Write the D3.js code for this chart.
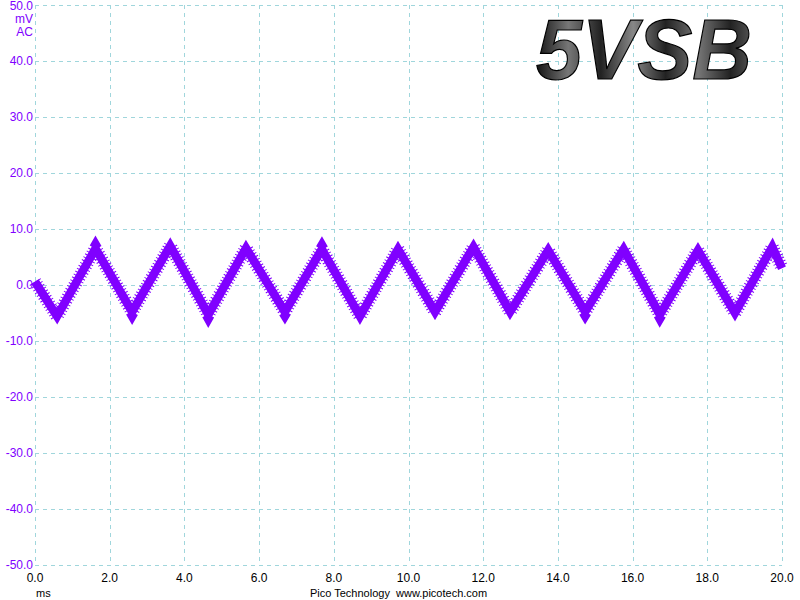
<!DOCTYPE html>
<html><head><meta charset="utf-8">
<script src="https://cdn.jsdelivr.net/npm/d3@7"></script>
<style>body{margin:0;background:#fff}svg{display:block}</style>
</head><body>
<script>
// Data (time in ms, signal in mV AC)
const timeTicks = [0,2,4,6,8,10,12,14,16,18,20];
const voltTicks = [50,40,30,20,10,0,-10,-20,-30,-40,-50];
const vertexTimes = [0,0.59,1.62,2.60,3.62,4.64,5.65,6.69,7.68,8.70,9.72,10.71,11.74,12.72,13.74,14.73,15.76,16.73,17.75,18.74,19.74,20.0];
const vertexValues = [0.6,-5.6,6.5,-4.8,7.0,-5.3,6.6,-4.8,6.4,-5.6,6.4,-4.8,6.8,-4.8,6.2,-4.8,6.4,-5.3,6.2,-5.0,6.8,3.0];
const title = "5VSB";
const xUnit = "ms";
const yUnit = ["mV","AC"];
const footer = "Pico Technology  www.picotech.com";

const W=800,H=600;
const svg=d3.select("body").append("svg").attr("width",W).attr("height",H);
const x=d3.scaleLinear().domain([0,20]).range([35,782]);
const y=d3.scaleLinear().domain([-50,50]).range([565,5]);
const purple="#8000ff";
const gridC="#a0d6dc";
const font="'Liberation Sans', Arial, sans-serif";

// grid
const g=svg.append("g");
g.selectAll(".vg").data(timeTicks).join("line")
 .attr("x1",d=>Math.round(x(d))+0.5).attr("x2",d=>Math.round(x(d))+0.5).attr("y1",y(50)).attr("y2",y(-50))
 .attr("stroke",gridC).attr("stroke-dasharray","4,4");
g.selectAll(".hg").data(voltTicks).join("line")
 .attr("y1",d=>Math.round(y(d))+0.5).attr("y2",d=>Math.round(y(d))+0.5).attr("x1",x(0)).attr("x2",x(20))
 .attr("stroke",gridC).attr("stroke-dasharray","4,4");

// title
const defs=svg.append("defs");
const gr=defs.append("linearGradient").attr("id","tg").attr("x1",0).attr("y1",0).attr("x2",1).attr("y2",0);
[[0,"#111"],[0.15,"#777"],[0.3,"#222"],[0.45,"#888"],[0.6,"#222"],[0.75,"#777"],[0.9,"#222"],[1,"#555"]].forEach(s=>gr.append("stop").attr("offset",s[0]).attr("stop-color",s[1]));
svg.append("text").attr("x",536).attr("y",79).text(title)
 .attr("font-family",font).attr("font-weight","bold").attr("font-style","italic")
 .attr("font-size",85).attr("textLength",216).attr("lengthAdjust","spacingAndGlyphs")
 .attr("fill","url(#tg)").attr("stroke","#000").attr("stroke-width",1.2);

// y labels
svg.selectAll(".yl").data(voltTicks).join("text")
 .attr("x",33).attr("y",d=>Math.max(y(d)+4,10)).attr("text-anchor","end")
 .attr("font-family",font).attr("font-size",12).attr("fill",purple)
 .text(d=>d.toFixed(1));
svg.selectAll(".yu").data(yUnit).join("text")
 .attr("x",33).attr("y",(d,i)=>23+i*13).attr("text-anchor","end")
 .attr("font-family",font).attr("font-size",12).attr("fill",purple).text(d=>d);

// x labels
svg.selectAll(".xl").data(timeTicks).join("text")
 .attr("x",d=>x(d)).attr("y",582).attr("text-anchor","middle")
 .attr("font-family",font).attr("font-size",12).attr("fill","#000")
 .text(d=>d.toFixed(1));
svg.append("text").attr("x",36).attr("y",597).attr("font-family",font).attr("font-size",11).text(xUnit);
svg.append("text").attr("x",310).attr("y",597).attr("font-family",font).attr("font-size",11).attr("xml:space","preserve").style("white-space","pre").text(footer);

// trace: solid core plus a combed fuzzy edge
const pts=vertexTimes.map((t,i)=>[t,vertexValues[i]]);
const line=d3.line().x(d=>x(d[0])).y(d=>y(d[1]));
svg.append("path").attr("d",line(pts)).attr("fill","none").attr("stroke",purple)
 .attr("stroke-width",13).attr("stroke-dasharray","1,2.3").attr("stroke-linejoin","miter").attr("stroke-miterlimit",10);
svg.append("path").attr("d",line(pts)).attr("fill","none").attr("stroke",purple)
 .attr("stroke-width",8.5).attr("stroke-linejoin","miter").attr("stroke-miterlimit",10);
</script>
</body></html>
